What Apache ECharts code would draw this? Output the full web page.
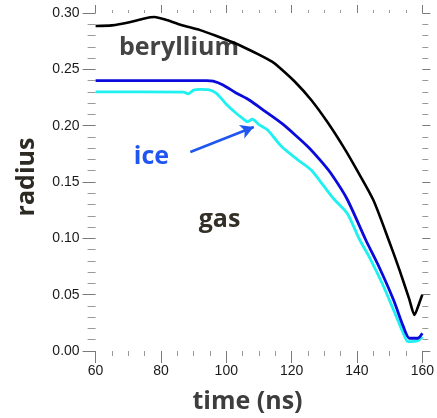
<!DOCTYPE html>
<html>
<head>
<meta charset="utf-8">
<title>radius vs time</title>
<script src="https://cdn.jsdelivr.net/npm/echarts@6/dist/echarts.min.js"></script>
<style>
  html, body { margin: 0; padding: 0; background: #fff; }
  #chart { width: 437px; height: 418px; }
</style>
</head>
<body>
<div id="chart"></div>
<script>
// beryllium shell (black)
var beTime = [60, 65, 70, 75, 78, 82, 86, 92, 97, 102, 106, 110, 114, 116, 121, 126, 131, 136, 140, 145, 149.7, 153, 156, 157.6, 159, 160];
var beRadius = [0.2885, 0.2890, 0.2915, 0.2952, 0.2965, 0.2935, 0.2895, 0.2848, 0.2796, 0.2740, 0.2687, 0.2630, 0.2568, 0.2523, 0.2390, 0.2228, 0.2030, 0.1805, 0.1605, 0.1340, 0.0985, 0.0720, 0.0460, 0.0320, 0.0420, 0.0500];
// ice (blue)
var iceTime = [60, 94, 96, 99, 103, 107, 112, 117, 121, 125, 129, 132, 137, 142.7, 146.7, 151.2, 154.2, 156.1, 158.6, 160];
var iceRadius = [0.2400, 0.2400, 0.2395, 0.2361, 0.2290, 0.2228, 0.2125, 0.2020, 0.1920, 0.1813, 0.1685, 0.1577, 0.1347, 0.0985, 0.0750, 0.0453, 0.0216, 0.0113, 0.0113, 0.0157];
// gas (cyan)
var gasTime = [60, 87, 88.3, 90, 92, 94.5, 97, 100, 103, 105, 106.5, 108, 110, 112.5, 117, 122, 126, 130, 133, 137, 140.8, 143.7, 147.7, 151.2, 154, 155.6, 158.6, 160];
var gasRadius = [0.2300, 0.2298, 0.2283, 0.2315, 0.2323, 0.2320, 0.2287, 0.2190, 0.2110, 0.2065, 0.2035, 0.2057, 0.2010, 0.1965, 0.1813, 0.1695, 0.1607, 0.1458, 0.1347, 0.1222, 0.0988, 0.0838, 0.0601, 0.0364, 0.0170, 0.0083, 0.0092, 0.0127];

// arrow from "ice" label to the dip in the curve
var arrowFrom = [89.0, 0.1766];
var arrowTo = [108.4, 0.1988];

var xMin = 60, xMax = 160, xStep = 20;
var yMin = 0, yMax = 0.30, yStep = 0.05;

var zip = function(xs, ys) {
	var out = [];
	for(var i = 0; i < xs.length; i++) {
		out.push([xs[i], ys[i]]);
	}
	return out;
};

var tickGrey = '#7a7a7a';
var minorGrey = '#9a9a9a';
var titleFont = "'Open Sans', 'DejaVu Sans', sans-serif";

var makeX = function(pos, majorLen, minorLen, showLabel) {
	return {
		type: 'value',
		position: pos,
		min: xMin,
		max: xMax,
		interval: xStep,
		axisLine: { show: false, onZero: false },
		splitLine: { show: false },
		axisTick: { show: true, length: majorLen, lineStyle: { color: tickGrey, width: 1 } },
		minorTick: { show: true, splitNumber: 4, length: minorLen, lineStyle: { color: minorGrey, width: 1 } },
		axisLabel: {
			show: showLabel,
			margin: 13,
			color: '#1a1a1a',
			fontSize: 14,
			fontFamily: "'Liberation Sans', Arial, sans-serif",
			hideOverlap: false
		}
	};
};

var makeY = function(pos, majorLen, minorLen, showLabel) {
	return {
		type: 'value',
		position: pos,
		min: yMin,
		max: yMax,
		interval: yStep,
		axisLine: { show: false, onZero: false },
		splitLine: { show: false },
		axisTick: { show: true, length: majorLen, lineStyle: { color: tickGrey, width: 1 } },
		minorTick: { show: true, splitNumber: 5, length: minorLen, lineStyle: { color: minorGrey, width: 1 } },
		axisLabel: {
			show: showLabel,
			margin: 16,
			color: '#1a1a1a',
			fontSize: 14,
			fontFamily: "'Liberation Sans', Arial, sans-serif",
			formatter: function(v) { return v.toFixed(2); }
		}
	};
};

var chart = echarts.init(document.getElementById('chart'), null, { renderer: 'canvas' });

var option = {
	animation: false,
	backgroundColor: '#ffffff',
	grid: {
		left: 95.6,
		right: 5.1,
		top: 13,
		bottom: 67
	},
	xAxis: [makeX('bottom', 12, 5, true), makeX('top', 8, 3, false)],
	yAxis: [makeY('left', 13, 8, true), makeY('right', 8, 6, false)],
	graphic: [{
		type: 'text',
		x: 27, y: 177,
		rotation: Math.PI / 2,
		style: {
			text: 'radius',
			font: 'bold 25px ' + titleFont,
			fill: '#2d2a24',
			align: 'center',
			verticalAlign: 'middle'
		}
	}, {
		type: 'text',
		x: 247.5, y: 402,
		style: {
			text: 'time (ns)',
			font: 'bold 25px ' + titleFont,
			fill: '#3d3d3d',
			align: 'center',
			verticalAlign: 'middle'
		}
	}, {
		type: 'text',
		x: 179, y: 48,
		style: {
			text: 'beryllium',
			font: 'bold 25px ' + titleFont,
			fill: '#444444',
			align: 'center',
			verticalAlign: 'middle'
		}
	}, {
		type: 'text',
		x: 151.5, y: 157,
		style: {
			text: 'ice',
			font: 'bold 25px ' + titleFont,
			fill: '#1f55f0',
			align: 'center',
			verticalAlign: 'middle'
		}
	}, {
		type: 'text',
		x: 219.5, y: 220,
		style: {
			text: 'gas',
			font: 'bold 25px ' + titleFont,
			fill: '#332f26',
			align: 'center',
			verticalAlign: 'middle'
		}
	}],
	series: [{
		name: 'beryllium',
		type: 'line',
		data: zip(beTime, beRadius),
		smooth: 0.25,
		showSymbol: false,
		lineStyle: { color: '#000000', width: 2.6 },
		z: 3
	}, {
		name: 'ice',
		type: 'line',
		data: zip(iceTime, iceRadius),
		smooth: 0.25,
		showSymbol: false,
		lineStyle: { color: '#0a0adc', width: 2.8 },
		z: 4
	}, {
		name: 'gas',
		type: 'line',
		data: zip(gasTime, gasRadius),
		smooth: 0.25,
		showSymbol: false,
		lineStyle: { color: '#1ff0f0', width: 2.8 },
		z: 2,
		markLine: {
			silent: true,
			symbol: ['none', 'arrow'],
			symbolSize: [11, 13],
			label: { show: false },
			lineStyle: { color: '#1f55f0', width: 2.5, type: 'solid' },
			data: [[{ coord: arrowFrom }, { coord: arrowTo }]]
		}
	}]
};

chart.setOption(option);
</script>
</body>
</html>
